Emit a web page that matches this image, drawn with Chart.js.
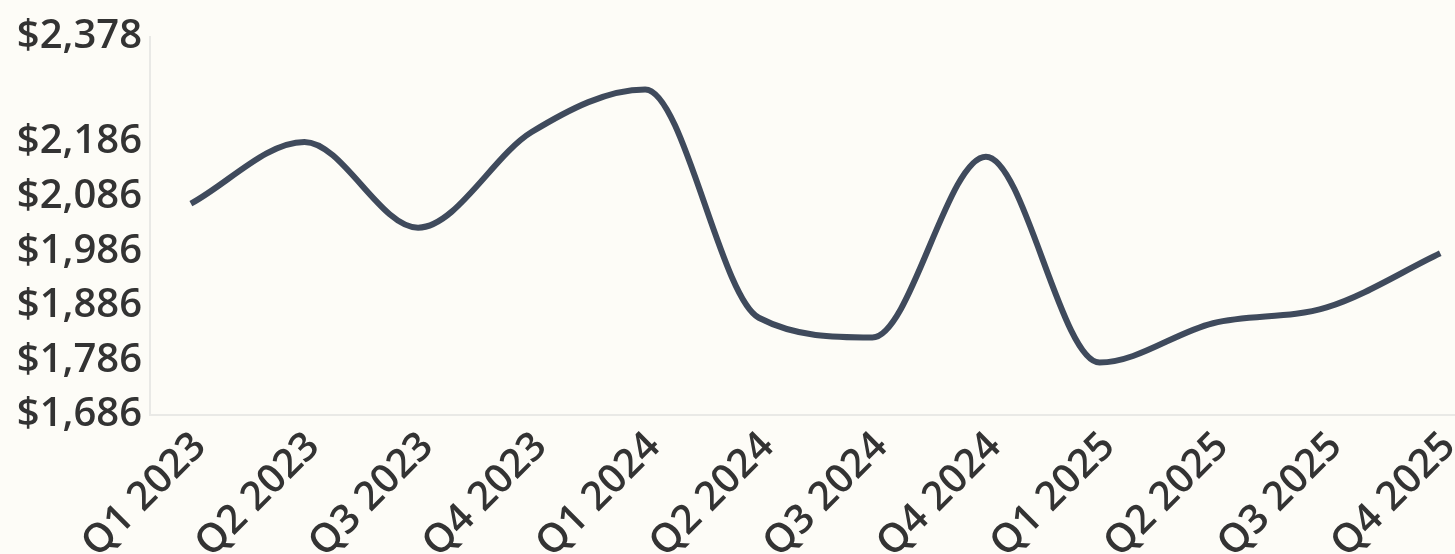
<!DOCTYPE html>
<html>
<head>
<meta charset="utf-8">
<script src="https://cdn.jsdelivr.net/npm/chart.js@4.4.1/dist/chart.umd.min.js"></script>
<style>
  html, body { margin: 0; padding: 0; background: #fdfcf7; }
  #wrap { width: 1455px; height: 554px; }
</style>
</head>
<body>
<div id="wrap"><canvas id="myChart" width="1455" height="554"></canvas></div>
<script>
// quarters on the x axis
const categories = ["Q1 2023", "Q2 2023", "Q3 2023", "Q4 2023", "Q1 2024", "Q2 2024",
                    "Q3 2024", "Q4 2024", "Q1 2025", "Q2 2025", "Q3 2025", "Q4 2025"]
// value per quarter
const values = [2073, 2186, 2029, 2204, 2282, 1864, 1828, 2159, 1782, 1854, 1883, 1982]
// y tick labels as shown
const yTicks = [1686, 1786, 1886, 1986, 2086, 2186, 2378]

const textColor = "#333333"
const axisColor = "#e9e9e6"
const fontFamily = "'Open Sans', 'Noto Sans', sans-serif"

const points = values.map((v, i) => ({ x: i, y: v }))

const ctx = document.getElementById("myChart")
const myChart = new Chart(ctx, {
    type: "line",
    data: {
        datasets: [{
            data: points,
            borderColor: "#3f4a5c",
            borderWidth: 6,
            pointRadius: 0,
            fill: false,
            cubicInterpolationMode: "monotone"
        }]
    },
    options: {
        responsive: false,
        animation: false,
        layout: { padding: { top: 37, right: 0, bottom: 0, left: 0 } },
        plugins: { legend: { display: false }, tooltip: { enabled: false } },
        scales: {
            x: {
                type: "linear",
                min: -0.36,
                max: 11.13,
                grid: { display: false, drawTicks: false },
                border: { display: true, color: axisColor, width: 2 },
                afterBuildTicks: (scale) => {
                    scale.ticks = categories.map((c, i) => ({ value: i }))
                },
                afterFit: (scale) => {
                    scale.height = 139
                    scale.paddingLeft = 0
                    scale.paddingRight = 0
                },
                ticks: {
                    autoSkip: false,
                    minRotation: 45,
                    maxRotation: 45,
                    padding: 8,
                    labelOffset: 9,
                    color: textColor,
                    font: { family: fontFamily, size: 40, weight: "600" },
                    callback: (value) => categories[value]
                }
            },
            y: {
                min: 1686,
                max: 2378,
                grid: { display: false, drawTicks: false },
                border: { display: true, color: axisColor, width: 2 },
                afterBuildTicks: (scale) => {
                    scale.ticks = yTicks.map(v => ({ value: v }))
                },
                afterFit: (scale) => {
                    scale.width = 150
                    scale.paddingTop = 0
                    scale.paddingBottom = 0
                },
                ticks: {
                    padding: 8,
                    color: textColor,
                    font: { family: fontFamily, size: 40, weight: "600" },
                    callback: (value) => "$" + value.toLocaleString("en-US")
                }
            }
        }
    }
})
</script>
</body>
</html>
